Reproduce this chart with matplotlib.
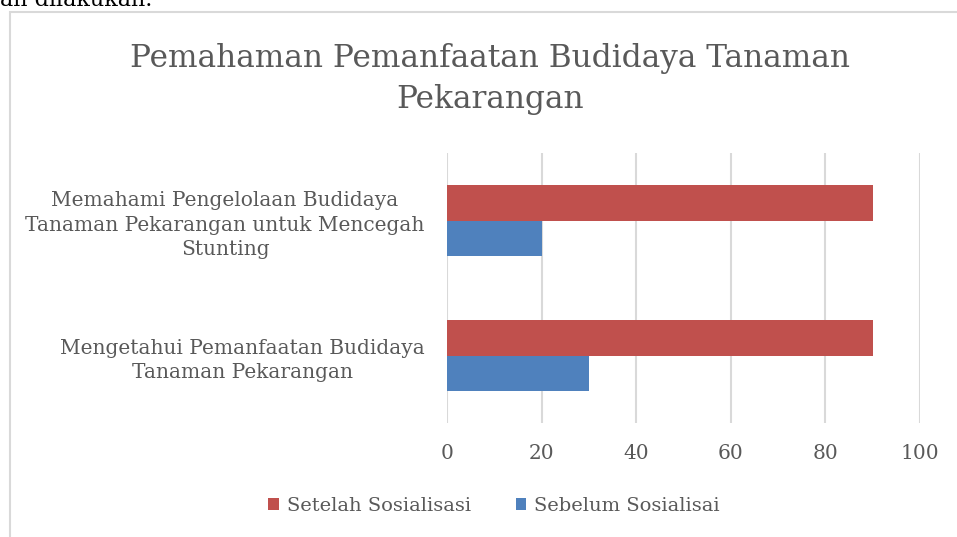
import numpy as np
import matplotlib.pyplot as plt
from matplotlib.patches import Rectangle

# data
categories = ['Mengetahui Pemanfaatan Budidaya\nTanaman Pekarangan',
              'Memahami Pengelolaan Budidaya\nTanaman Pekarangan untuk Mencegah\nStunting']
sebelum = [30, 20]
setelah = [90, 90]
series_names = ['Setelah Sosialisasi', 'Sebelum Sosialisai']
ticks = [0, 20, 40, 60, 80, 100]

plt.rcParams['font.family'] = ['DejaVu Serif']
txt = '#595959'
red = '#C0504D'
blue = '#4F81BD'

fig = plt.figure(figsize=(9.57, 5.37), dpi=100)

# chart frame (cut off at right / bottom like the screenshot)
fig.patches.append(Rectangle((10/957, -0.1), 1.2, 1.1 - 12/537, transform=fig.transFigure,
                             fill=False, edgecolor='#D9D9D9', linewidth=1.5, zorder=0))
# bit of the document text above the chart
fig.text(0, 1 - 6/537, 'an dilakukan.', fontsize=16, color='black',
         ha='left', va='baseline')

ax = fig.add_axes([447/957, 1 - 423/537, (920 - 447)/957, (423 - 153)/537])
y = np.arange(len(categories))
h = 0.263
ax.barh(y + h/2, setelah, height=h, color=red, label=series_names[0], zorder=2)
ax.barh(y - h/2, sebelum, height=h, color=blue, label=series_names[1], zorder=2)

ax.set_xlim(0, 100)
ax.set_ylim(-0.5, 1.5)
ax.set_xticks(ticks)
ax.set_yticks(y)
ax.set_yticklabels(categories, multialignment='center', linespacing=1.35)
ax.tick_params(axis='both', length=0, labelsize=14.5, colors=txt)
ax.tick_params(axis='x', pad=15)
ax.tick_params(axis='y', pad=16)
ax.grid(axis='x', color='#D9D9D9', linewidth=1.5, zorder=0)
for s in ax.spines.values():
    s.set_visible(False)

fig.text(490/957, 1 - 79/537, 'Pemahaman Pemanfaatan Budidaya Tanaman\nPekarangan',
         ha='center', va='center', fontsize=22.5, color=txt, linespacing=1.38)

fig.legend(loc='center', bbox_to_anchor=(494/957, 1 - 506/537), ncol=2, frameon=False,
           fontsize=14, labelcolor=txt, handlelength=0.55, handleheight=0.55,
           handletextpad=0.4, columnspacing=2.3)

plt.savefig('out.png', dpi=100)
